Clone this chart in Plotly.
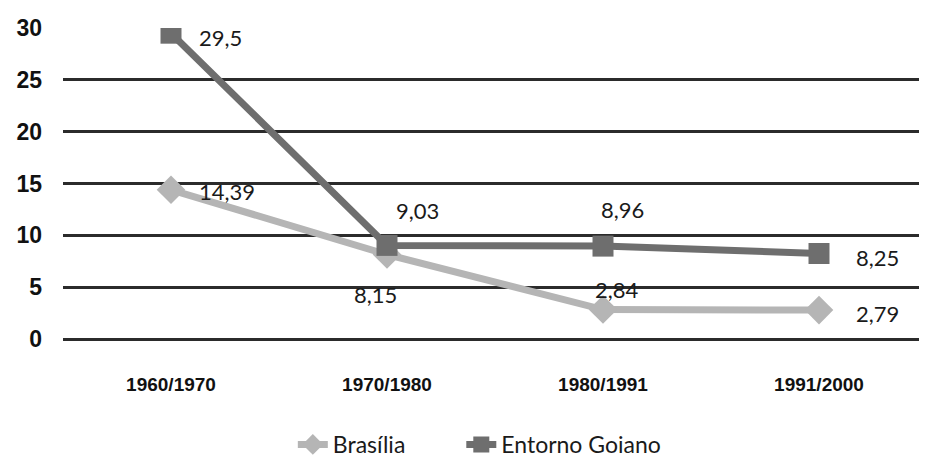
import plotly.graph_objects as go

categories = ["1960/1970", "1970/1980", "1980/1991", "1991/2000"]
brasilia = [14.39, 8.15, 2.84, 2.79]
entorno = [29.5, 9.03, 8.96, 8.25]
brasilia_labels = ["14,39", "8,15", "2,84", "2,79"]
entorno_labels = ["29,5", "9,03", "8,96", "8,25"]
y_ticks = [0, 5, 10, 15, 20, 25, 30]

# label offsets (pixels) - style only
b_shift = [(56, -2), (-12, -40), (14, 20), (58, -3)]
e_shift = [(49, -4), (30, 35), (19, 37), (58, -4)]

fig = go.Figure()
fig.add_trace(go.Scatter(
    x=categories, y=brasilia, name="Brasília", mode="lines+markers",
    line=dict(color="#b5b5b5", width=7),
    marker=dict(symbol="diamond", size=22, color="#b5b5b5"),
    legend="legend",
))
fig.add_trace(go.Scatter(
    x=categories, y=entorno, name="Entorno Goiano", mode="lines+markers",
    line=dict(color="#6e6e6e", width=7),
    marker=dict(symbol="square", size=21, color="#6e6e6e"),
    legend="legend2",
))

label_font = dict(family="Lato, Noto Sans, sans-serif", size=22, color="#1a1a1a")
for cat, val, lab, (dx, dy) in zip(categories, brasilia, brasilia_labels, b_shift):
    fig.add_annotation(x=cat, y=val, text=lab, showarrow=False, xshift=dx, yshift=dy, font=label_font)
for cat, val, lab, (dx, dy) in zip(categories, entorno, entorno_labels, e_shift):
    fig.add_annotation(x=cat, y=val, text=lab, showarrow=False, xshift=dx, yshift=dy, font=label_font)

legend_font = dict(family="Lato, Noto Sans, sans-serif", size=23, color="#1a1a1a")
fig.update_layout(
    width=919, height=458,
    margin=dict(l=55, r=0, t=20, b=124),
    paper_bgcolor="white", plot_bgcolor="white",
    showlegend=True,
    legend=dict(orientation="h", x=0.266, xanchor="left", y=-0.341, yanchor="middle",
                font=legend_font, bgcolor="rgba(0,0,0,0)"),
    legend2=dict(orientation="h", x=0.461, xanchor="left", y=-0.341, yanchor="middle",
                 font=legend_font, bgcolor="rgba(0,0,0,0)"),
    xaxis=dict(
        type="category", range=[-0.5, 3.5], showgrid=False, showline=False, zeroline=False,
        tickfont=dict(family="Liberation Sans, Arial, sans-serif", size=19,
                      color="#111111", weight="bold"),
        ticklabelstandoff=32, ticks="", automargin=False,
    ),
    yaxis=dict(
        range=[0, 30], tickvals=y_ticks, showgrid=True, gridcolor="#2b2b2b", gridwidth=3,
        zeroline=True, zerolinecolor="#2b2b2b", zerolinewidth=3, showline=False,
        tickfont=dict(family="Liberation Sans, Arial, sans-serif", size=23, color="#111111",
                      weight="bold"),
        ticklabelstandoff=20, ticks="", automargin=False,
    ),
)

fig.write_html("out.html")
